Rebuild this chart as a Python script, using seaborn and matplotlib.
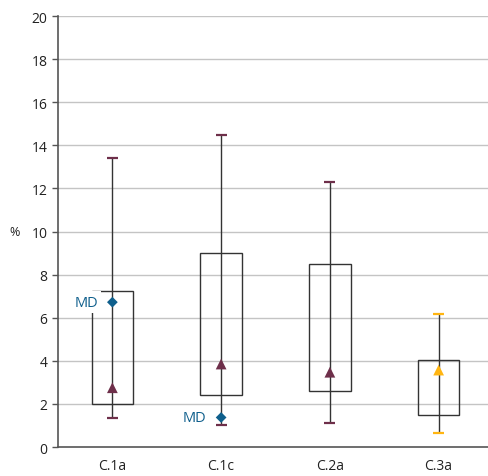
import numpy as np
import pandas as pd
import matplotlib.pyplot as plt
import seaborn as sns

# data
categories = ['C.1a', 'C.1c', 'C.2a', 'C.3a']
whisker_low = [1.35, 1.0, 1.1, 0.63]
whisker_high = [13.4, 14.5, 12.3, 6.15]
box_low = [2.0, 2.43, 2.6, 1.47]
box_high = [7.22, 9.0, 8.5, 4.03]
mean_val = [2.75, 3.85, 3.47, 3.57]
md_cat = ['C.1a', 'C.1c']
md_val = [6.72, 1.37]

maroon = '#6E2F4A'
orange = '#FFB511'
blue = '#0F5F8C'
cap_colors = [maroon, maroon, maroon, orange]

sns.set_style("white")
plt.rcParams['font.family'] = ['Open Sans', 'DejaVu Sans']

fig = plt.figure(figsize=(4.89, 4.77), dpi=100)
ax = fig.add_axes([58 / 489, 1 - 448 / 477, 435 / 489, 431 / 477])

x = np.arange(len(categories))
ax.set_xlim(-0.5, len(categories) - 0.5)
ax.set_ylim(0, 20)

# grid lines
for yv in range(2, 21, 2):
    ax.axhline(yv, color='#C4C4C4', lw=1.0, zorder=0)

# boxes
ax.bar(x, np.array(box_high) - np.array(box_low), bottom=box_low, width=0.38,
       fill=False, edgecolor='#333333', lw=1.0, zorder=2)

# whiskers and caps
ax.vlines(x, whisker_low, whisker_high, color='#333333', lw=1.0, zorder=3)
for xi, lo, hi, c in zip(x, whisker_low, whisker_high, cap_colors):
    ax.hlines([lo, hi], xi - 0.05, xi + 0.05, color=c, lw=1.6, zorder=4)

# mean triangles
df = pd.DataFrame({'cat': x, 'val': mean_val})
sns.scatterplot(data=df, x='cat', y='val', hue='cat', palette=cap_colors,
                marker='^', s=60, edgecolor='none', legend=False, zorder=5, ax=ax)

# MD diamonds
md_x = [categories.index(c) for c in md_cat]
md_df = pd.DataFrame({'cat': md_x, 'val': md_val})
sns.scatterplot(data=md_df, x='cat', y='val', color=blue, marker='D', s=30,
                edgecolor='none', legend=False, zorder=6, ax=ax)
for xi, yv in zip(md_x, md_val):
    ax.annotate('MD', (xi, yv), xytext=(-10.5, 0), textcoords='offset points',
                ha='right', va='center', color=blue, fontsize=10.5, zorder=4.5,
                bbox=dict(boxstyle='square,pad=0.22', fc='white', ec='none'))

# axes styling
ax.set_yticks(range(0, 21, 2))
ax.set_xticks(x)
ax.set_xticklabels(categories)
ax.set_xticks(np.arange(0.5, len(categories) - 0.5, 1), minor=True)
ax.tick_params(axis='x', which='major', length=0, pad=8, labelsize=10, colors='#222222')
ax.tick_params(axis='x', which='minor', length=5, width=1, color='#555555', direction='out')
ax.tick_params(axis='y', length=4, width=1, color='#555555', direction='out', left=True,
               labelsize=10, colors='#222222')
for side in ['top', 'right']:
    ax.spines[side].set_visible(False)
for side in ['left', 'bottom']:
    ax.spines[side].set_color('#555555')
    ax.spines[side].set_linewidth(1.2)
ax.set_xlabel('')
ax.set_ylabel('%', rotation=0, fontsize=9, color='#222222', labelpad=12, va='center')

fig.savefig('out.png', dpi=100)
